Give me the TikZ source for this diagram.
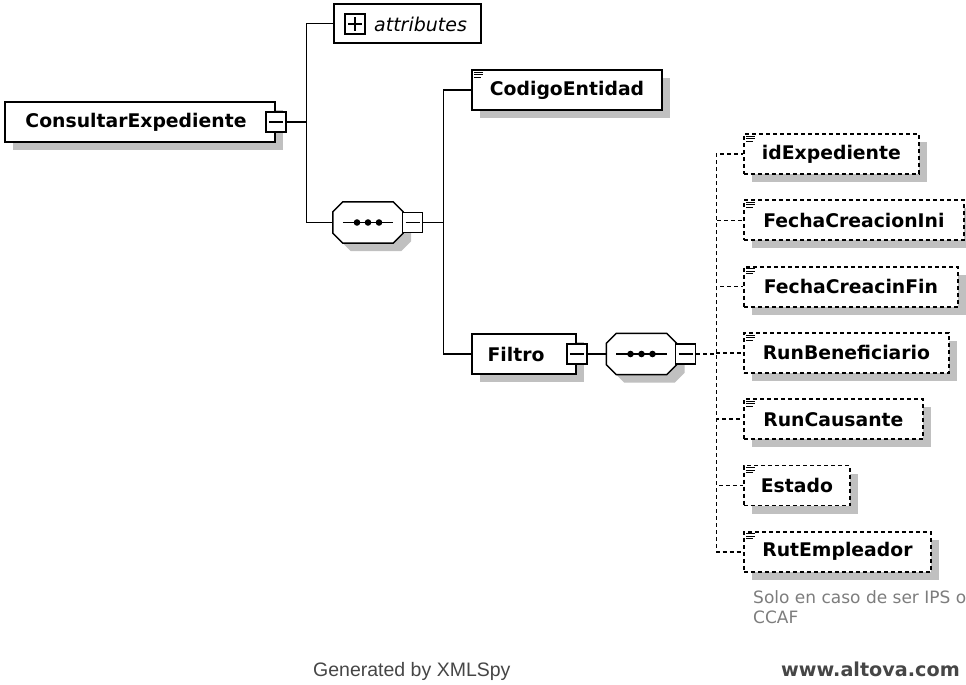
\documentclass[tikz,border=0pt]{standalone}
\usepackage{fontspec}
\setmainfont{DejaVu Sans}
\newfontfamily\footfont{Liberation Sans}
\usetikzlibrary{positioning,shadows}

\definecolor{shadegray}{RGB}{192,192,192}
\definecolor{notegray}{RGB}{125,125,125}
\definecolor{footgray}{RGB}{70,70,70}

% small "element" mark in the upper left corner
\newcommand{\elemicon}[1]{%
  \draw[line width=1pt] ([xshift=3pt,yshift=-3pt]#1.north west) -- ++(9pt,0pt)
    ([xshift=3pt,yshift=-5.5pt]#1.north west) -- ++(9pt,0pt)
    ([xshift=3pt,yshift=-8pt]#1.north west) -- ++(7pt,0pt);}

% sequence compositor drawn round a named node
\newcommand{\seqoct}[1]{%
  \draw[line width=1.5pt,fill=white,
        general shadow={fill=shadegray,shadow xshift=8pt,shadow yshift=-8pt}]
    ([xshift=10pt]#1.north west) -- ([xshift=-10pt]#1.north east)
    -- ([yshift=-10pt]#1.north east) -- ([yshift=10pt]#1.south east)
    -- ([xshift=-10pt]#1.south east) -- ([xshift=10pt]#1.south west)
    -- ([yshift=10pt]#1.south west) -- ([yshift=-10pt]#1.north west) -- cycle;
  \draw[line width=1.5pt] ([xshift=10pt]#1.west) -- ([xshift=-10pt]#1.east);
  \foreach \dx in {-11,0,11} \fill ([xshift=\dx pt]#1.center) circle (3.3pt);}

\begin{document}
\begin{tikzpicture}[x=1pt,y=-1pt,
  box/.style={draw,line width=1.7pt,fill=white,inner sep=0pt,minimum height=40pt,
    font=\fontsize{18.8}{22}\selectfont\bfseries},
  elem/.style={box,general shadow={fill=shadegray,shadow xshift=8pt,shadow yshift=-8pt}},
  optelem/.style={elem,line width=1.8pt,dash pattern=on 4pt off 3pt},
  btn/.style={draw,line width=1.5pt,fill=white,minimum size=20pt,inner sep=0pt},
  minusbtn/.style={btn,path picture={
    \draw[line width=1.5pt] ([xshift=-7pt]path picture bounding box.center)
      -- ([xshift=7pt]path picture bounding box.center);}},
  plusbtn/.style={btn,path picture={
    \draw[line width=1.5pt] ([xshift=-7pt]path picture bounding box.center)
      -- ([xshift=7pt]path picture bounding box.center)
      ([yshift=-7pt]path picture bounding box.center)
      -- ([yshift=7pt]path picture bounding box.center);}},
  seq/.style={minimum width=70pt,minimum height=41pt,inner sep=0pt},
  conn/.style={line width=1.5pt},
  optconn/.style={conn,dash pattern=on 4pt off 3pt},
  note/.style={text=notegray,font=\fontsize{17}{20}\selectfont,align=left,inner sep=0pt},
  foot/.style={text=footgray,inner sep=0pt}
]
\useasboundingbox (0,0) rectangle (966,685);
\clip (0,0) rectangle (966,685);
\fill[white] (0,0) rectangle (966,685);

% root element
\node[elem,minimum width=270pt] (root) at (140,122) {ConsultarExpediente\hspace{8pt}\null};
\node[minusbtn] (rootbtn) at (root.east) {};

% attributes
\node[box,minimum width=147pt,minimum height=39pt] (attr) at (407.5,23.5) {};
\node[plusbtn] (attrbtn) at (355,24) {};
\node[anchor=west,inner sep=0pt,font=\fontsize{19}{22}\selectfont\itshape] (attrlbl) at (374,24) {attributes};

% first sequence
\node[seq] (seqa) at (368,222.5) {};
\seqoct{seqa}
\node[minusbtn] (seqabtn) at ([xshift=9.5pt]seqa.east) {};

\node[elem,minimum width=190pt] (code) at (567,90) {CodigoEntidad};
\elemicon{code}
\node[elem,minimum width=104pt] (filtro) at (524,354) {Filtro\hspace{16pt}\null};
\node[minusbtn] (filtrobtn) at (filtro.east) {};

% second sequence
\node[seq] (seqb) at (641.5,354) {};
\seqoct{seqb}
\node[minusbtn] (seqbbtn) at ([xshift=9pt]seqb.east) {};

\draw[conn] (rootbtn.east) -- ++(20,0) |- (attr.west);
\draw[conn] (rootbtn.east) -- ++(20,0) |- (seqa.west);
\draw[conn] (seqabtn.east) -- ++(20,0) |- (code.west);
\draw[conn] (seqabtn.east) -- ++(20,0) |- (filtro.west);
\draw[conn] (filtrobtn.east) -- (seqb.west);

% optional children of Filtro
\foreach \cname/\cw [count=\i from 0] in {idExpediente/175,FechaCreacionIni/220,
    FechaCreacinFin/214,RunBeneficiario/205,RunCausante/179,Estado/106,RutEmpleador/187}{
  \node[optelem,minimum width=\cw pt,anchor=west] (child\i) at (743,154+66.3*\i) {\cname};
  \elemicon{child\i}
  \draw[optconn] (seqbbtn.east) -- ++(20,0) |- (child\i.west);
}

\node[note,anchor=north west] (rutnote) at (753,590) {Solo en caso de ser IPS o\\CCAF};

\node[foot,anchor=base west,font=\footfont\fontsize{19.5}{22}\selectfont] (gen) at (313,676) {Generated by XMLSpy};
\node[foot,anchor=base west,font=\fontsize{19.2}{22}\selectfont\bfseries] (altova) at (781,676) {www.altova.com};
\end{tikzpicture}
\end{document}
